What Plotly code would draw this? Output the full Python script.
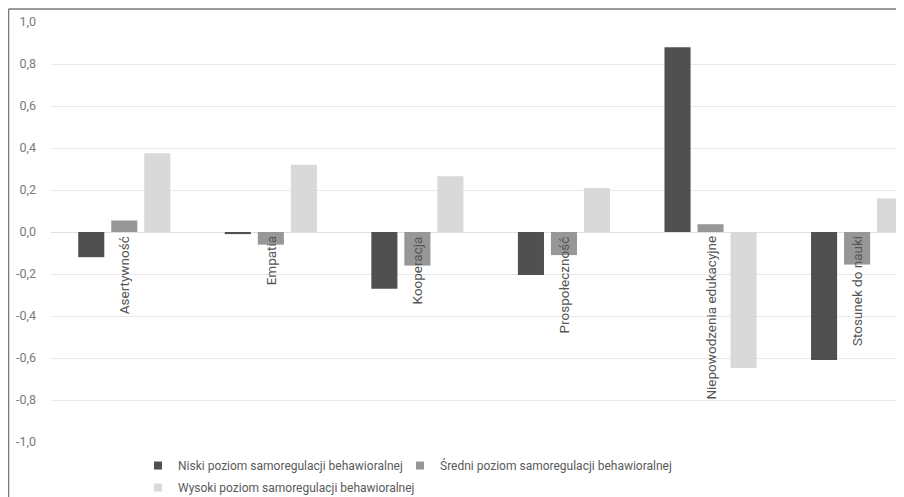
import plotly.graph_objects as go

categories = ["Asertywność", "Empatia", "Kooperacja", "Prospołeczność",
              "Niepowodzenia edukacyjne", "Stosunek do nauki"]
series_names = ["Niski poziom samoregulacji behawioralnej",
                "Średni poziom samoregulacji behawioralnej",
                "Wysoki poziom samoregulacji behawioralnej"]
niski = [-0.12, -0.01, -0.27, -0.205, 0.88, -0.61]
sredni = [0.055, -0.06, -0.16, -0.11, 0.037, -0.155]
wysoki = [0.375, 0.32, 0.265, 0.21, -0.648, 0.16]
tick_vals = [-1.0, -0.8, -0.6, -0.4, -0.2, 0.0, 0.2, 0.4, 0.6, 0.8, 1.0]
tick_text = ["-1,0", "-0,8", "-0,6", "-0,4", "-0,2", "0,0", "0,2", "0,4", "0,6", "0,8", "1,0"]

colors = ["#505050", "#979797", "#d9d9d9"]
FONT = "Roboto"
TXT = "#5a5a5a"

xs = list(range(len(categories)))
fig = go.Figure()
for name, vals, col in zip(series_names, [niski, sredni, wysoki], colors):
    fig.add_trace(go.Bar(x=xs, y=vals, name=name, marker_color=col,
                         marker_line_width=0, showlegend=False))
# legend entries (square markers like the reference)
for name, col, lg in zip(series_names, colors, ["legend", "legend3", "legend2"]):
    fig.add_trace(go.Scatter(x=[None], y=[None], mode="markers", name=name,
                             marker=dict(symbol="square", size=8, color=col),
                             legend=lg, showlegend=True))

annotations = [dict(x=i, y=0, xref="x", yref="y", text=c, textangle=-90,
                    showarrow=False, xanchor="center", yanchor="top", yshift=-2,
                    font=dict(family=FONT, size=13.5, color="#555555"))
               for i, c in enumerate(categories)]

legend_style = dict(orientation="h", xanchor="left", xref="container",
                    yanchor="top", yref="container",
                    font=dict(family=FONT, size=12, color=TXT), itemwidth=30,
                    bgcolor="rgba(0,0,0,0)")

fig.update_layout(
    width=896, height=489,
    margin=dict(l=43, r=0, t=14, b=55, autoexpand=False),
    paper_bgcolor="white", plot_bgcolor="white",
    barmode="group", bargap=0.324, bargroupgap=0.21,
    font=dict(family=FONT, size=12, color=TXT),
    xaxis=dict(range=[-0.5, 5.32], showticklabels=False, showgrid=False,
               zeroline=False, showline=False, ticks="", automargin=False),
    yaxis=dict(range=[-1.0, 1.0], tickvals=tick_vals, ticktext=tick_text,
               showgrid=True, gridcolor="#e8e8e8", gridwidth=1,
               zeroline=True, zerolinecolor="#e0e0e0", zerolinewidth=1,
               showline=False, ticks="", ticklabelstandoff=14, automargin=False,
               tickfont=dict(family=FONT, size=12.5, color="#7a7a7a")),
    showlegend=True,
    legend=dict(x=0.1451, y=0.094, **legend_style),
    legend3=dict(x=0.4375, y=0.094, **legend_style),
    legend2=dict(x=0.1451, y=0.049, **legend_style),
    annotations=annotations,
    shapes=[
        dict(type="line", xref="paper", yref="paper", x0=-0.0498, x1=1.0,
             y0=1.031, y1=1.031, line=dict(color="#7a7a7a", width=1.5)),
        dict(type="line", xref="paper", yref="paper", x0=-0.0498, x1=-0.0498,
             y0=1.031, y1=-0.131, line=dict(color="#7a7a7a", width=1.5)),
    ],
)

fig.write_html("out.html")
